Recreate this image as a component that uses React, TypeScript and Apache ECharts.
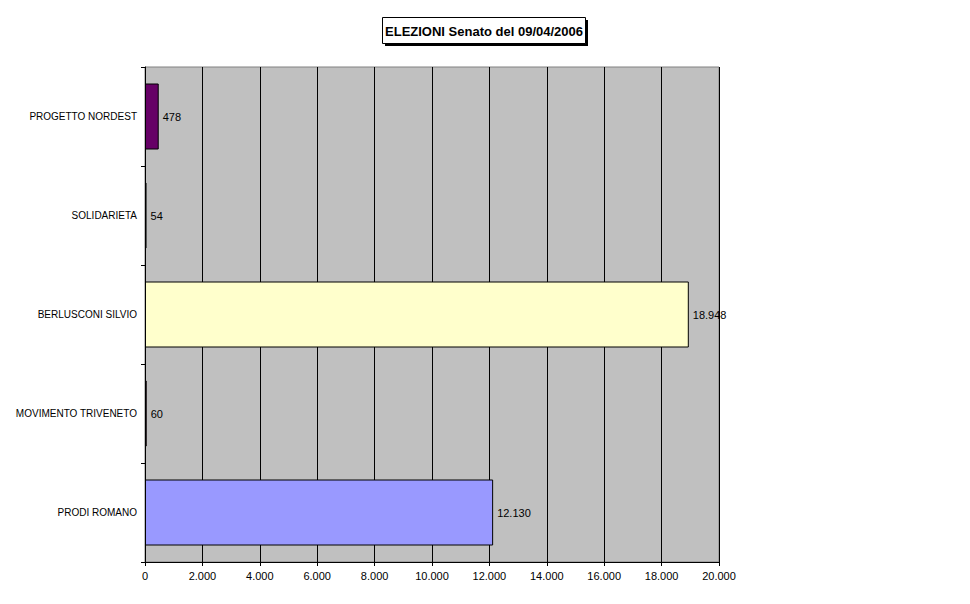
import React, { useEffect, useRef } from "react";
import * as echarts from "echarts";

const categories = [
  "PROGETTO NORDEST",
  "SOLIDARIETA",
  "BERLUSCONI SILVIO",
  "MOVIMENTO TRIVENETO",
  "PRODI ROMANO",
];
const values = [478, 54, 18948, 60, 12130];
const colors = ["#660066", "#CCFFFF", "#FFFFCC", "#993366", "#9999FF"];
const titleText = "ELEZIONI Senato del 09/04/2006";

const fmt = (n: number) => String(Math.round(n)).replace(/\B(?=(\d{3})+(?!\d))/g, ".");

export default function App() {
  const ref = useRef<HTMLDivElement>(null);
  useEffect(() => {
    if (!ref.current) return;
    const chart = echarts.init(ref.current, undefined, { renderer: "svg" });
    const font = "Liberation Sans, Arial, sans-serif";
    chart.setOption({
      animation: false,
      backgroundColor: "#ffffff",
      textStyle: { fontFamily: font },
      graphic: [
        { type: "rect", shape: { x: 385, y: 20, width: 203, height: 26 }, style: { fill: "#000" } },
        { type: "rect", shape: { x: 382.5, y: 17.5, width: 203, height: 26 }, style: { fill: "#fff", stroke: "#000", lineWidth: 1 } },
        {
          type: "text",
          x: 484,
          y: 31,
          style: { text: titleText, fontFamily: font, fontSize: 13, fontWeight: "bold", fill: "#000", align: "center", verticalAlign: "middle" },
        },
      ],
      grid: {
        left: 145,
        right: 251,
        top: 67,
        bottom: 42,
        show: true,
        backgroundColor: "#C0C0C0",
        borderColor: "#808080",
        borderWidth: 1,
        containLabel: false,
      },
      xAxis: {
        type: "value",
        min: 0,
        max: 20000,
        interval: 2000,
        axisLine: { show: true, lineStyle: { color: "#000", width: 1 } },
        axisTick: { show: true, length: 4, lineStyle: { color: "#000" } },
        splitLine: { show: true, lineStyle: { color: "#000", width: 1 } },
        axisLabel: { color: "#000", fontSize: 11, margin: 8, formatter: (v: number) => fmt(v), fontFamily: font },
      },
      yAxis: {
        type: "category",
        inverse: true,
        data: categories,
        axisLine: { show: true, lineStyle: { color: "#000", width: 1 } },
        axisTick: { show: true, length: 4, alignWithLabel: false, lineStyle: { color: "#000" } },
        splitLine: { show: false },
        axisLabel: { color: "#000", fontSize: 10, margin: 8, fontFamily: font },
      },
      series: [
        {
          type: "bar",
          barWidth: 66,
          data: values.map((v, i) => ({
            value: v,
            itemStyle: { color: colors[i], borderColor: "#000", borderWidth: 1 },
          })),
          label: {
            show: true,
            position: "right",
            distance: 4,
            color: "#000",
            fontSize: 11,
            fontFamily: font,
            formatter: (p: any) => fmt(p.value),
          },
        },
      ],
    });
    return () => chart.dispose();
  }, []);
  return <div ref={ref} style={{ position: "fixed", left: 0, top: 0, width: 970, height: 604 }} />;
}
